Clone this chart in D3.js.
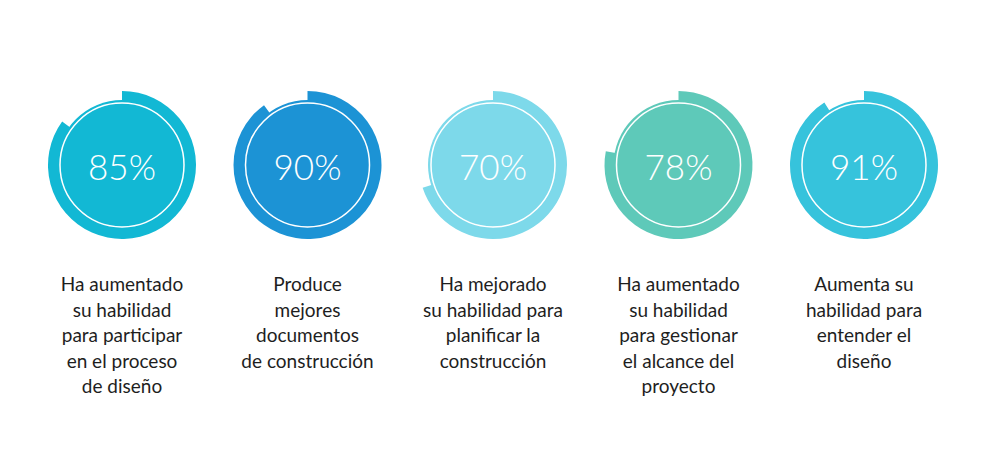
<!DOCTYPE html>
<html>
<head>
<meta charset="utf-8">
<script src="https://cdn.jsdelivr.net/npm/d3@7"></script>
<style>
  html, body { margin: 0; padding: 0; background: #fff; }
  svg { display: block; }
</style>
</head>
<body>
<div id="chart"></div>
<script>
// values
var categories = ["diseno", "documentos", "planificar", "alcance", "entender"];
var percents = [85, 90, 70, 78, 91];
var colors = ["#12b8d4", "#1c93d5", "#7dd9ea", "#5ec9b9", "#36c3dc"];
var labels = [
  ["Ha aumentado", "su habilidad", "para participar", "en el proceso", "de diseño"],
  ["Produce", "mejores", "documentos", "de construcción"],
  ["Ha mejorado", "su habilidad para", "planificar la", "construcción"],
  ["Ha aumentado", "su habilidad", "para gestionar", "el alcance del", "proyecto"],
  ["Aumenta su", "habilidad para", "entender el", "diseño"]
];

var width = 990, height = 449;
var cy = 165;
var diskR = 65, ringOuter = 74, lineR = 62;

var svg = d3.select("#chart").append("svg")
  .attr("width", width)
  .attr("height", height);

var x = d3.scalePoint().domain(categories).range([122, 864]);
var angle = d3.scaleLinear().domain([0, 100]).range([0, 2 * Math.PI]);

var arc = d3.arc()
  .innerRadius(diskR - 1)
  .outerRadius(ringOuter)
  .startAngle(0)
  .endAngle(function (d) { return angle(d); });

var data = categories.map(function (c, i) {
  return { key: c, pct: percents[i], color: colors[i], lines: labels[i] };
});

var g = svg.selectAll("g.item")
  .data(data)
  .enter().append("g")
  .attr("class", "item")
  .attr("transform", function (d) { return "translate(" + x(d.key) + "," + cy + ")"; });

g.append("circle")
  .attr("r", diskR)
  .attr("fill", function (d) { return d.color; });

g.append("path")
  .attr("d", function (d) { return arc(d.pct); })
  .attr("fill", function (d) { return d.color; });

g.append("circle")
  .attr("r", lineR)
  .attr("fill", "none")
  .attr("stroke", "#fff")
  .attr("stroke-width", 1.5);

g.append("text")
  .attr("y", 15)
  .attr("text-anchor", "middle")
  .attr("fill", "#fff")
  .style("font-family", "Lato, sans-serif")
  .style("font-weight", 300)
  .style("font-size", "35px")
  .text(function (d) { return d.pct + "%"; });

g.append("text")
  .attr("text-anchor", "middle")
  .attr("fill", "#1e1e1e")
  .style("font-family", "Lato, sans-serif")
  .style("font-size", "19px")
  .selectAll("tspan")
  .data(function (d) { return d.lines; })
  .enter().append("tspan")
  .attr("x", 0)
  .attr("y", function (d, i) { return 126 + i * 25.5; })
  .text(function (d) { return d; });
</script>
</body>
</html>
